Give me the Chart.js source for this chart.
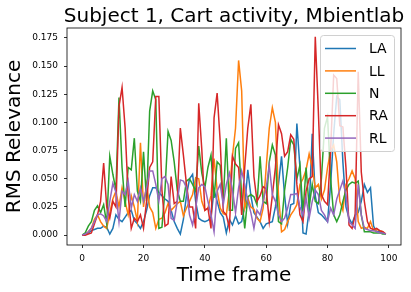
<!DOCTYPE html>
<html>
<head>
<meta charset="utf-8">
<script src="https://cdn.jsdelivr.net/npm/chart.js@4/dist/chart.umd.min.js"></script>
<style>
  html, body { margin: 0; padding: 0; background: #fff; }
  #wrap { width: 411px; height: 292px; }
</style>
</head>
<body>
<div id="wrap"><canvas id="chart" width="411" height="292"></canvas></div>
<script>
/* ================= DATA ================= */
const frames = Array.from({ length: 100 }, (_, i) => i);

const seriesNames = ["LA", "LL", "N", "RA", "RL"];
const seriesColors = ["#1f77b4", "#ff7f0e", "#2ca02c", "#d62728", "#9467bd"];

const laValues = [
  0.000, 0.001, 0.002, 0.004, 0.005, 0.006, 0.006, 0.008, 0.007, 0.001,
  0.006, 0.018, 0.014, 0.012, 0.016, 0.020, 0.022, 0.013, 0.010, 0.006,
  0.012, 0.022, 0.035, 0.042, 0.042, 0.038, 0.035, 0.032, 0.030, 0.022,
  0.012, 0.006, 0.001, 0.014, 0.035, 0.050, 0.054, 0.030, 0.015, 0.013,
  0.012, 0.013, 0.016, 0.040, 0.030, 0.020, 0.016, 0.002, 0.014, 0.009,
  0.017, 0.010, 0.012, 0.025, 0.058, 0.035, 0.020, 0.016, 0.012, 0.006,
  0.010, 0.011, 0.012, 0.025, 0.045, 0.070, 0.035, 0.010, 0.027, 0.028,
  0.099, 0.060, 0.002, 0.001, 0.022, 0.090, 0.035, 0.020, 0.018, 0.015,
  0.012, 0.045, 0.090, 0.123, 0.120, 0.065, 0.025, 0.015, 0.010, 0.018,
  0.020, 0.030, 0.045, 0.038, 0.042, 0.008, 0.003, 0.003, 0.002, 0.001
];

const llValues = [
  0.000, 0.001, 0.003, 0.006, 0.014, 0.018, 0.012, 0.008, 0.006, 0.020,
  0.032, 0.039, 0.025, 0.042, 0.030, 0.018, 0.035, 0.025, 0.012, 0.082,
  0.025, 0.045, 0.025, 0.020, 0.006, 0.014, 0.015, 0.020, 0.028, 0.022,
  0.025, 0.028, 0.030, 0.017, 0.024, 0.030, 0.036, 0.051, 0.050, 0.030,
  0.022, 0.024, 0.035, 0.068, 0.040, 0.024, 0.019, 0.018, 0.040, 0.070,
  0.095, 0.155, 0.128, 0.024, 0.033, 0.025, 0.023, 0.015, 0.012, 0.024,
  0.060, 0.095, 0.113, 0.100, 0.036, 0.003, 0.005, 0.012, 0.018, 0.022,
  0.027, 0.045, 0.050, 0.058, 0.072, 0.060, 0.042, 0.045, 0.032, 0.040,
  0.060, 0.075, 0.080, 0.065, 0.030, 0.022, 0.045, 0.050, 0.057, 0.050,
  0.012, 0.006, 0.007, 0.006, 0.012, 0.004, 0.005, 0.004, 0.003, 0.001
];

const nValues = [
  0.000, 0.002, 0.008, 0.012, 0.022, 0.026, 0.020, 0.027, 0.010, 0.070,
  0.054, 0.040, 0.122, 0.060, 0.025, 0.060, 0.058, 0.086, 0.039, 0.030,
  0.074, 0.030, 0.110, 0.128, 0.120, 0.006, 0.007, 0.040, 0.092, 0.084,
  0.065, 0.040, 0.030, 0.030, 0.048, 0.050, 0.045, 0.039, 0.079, 0.055,
  0.042, 0.060, 0.071, 0.033, 0.065, 0.062, 0.030, 0.086, 0.022, 0.022,
  0.077, 0.082, 0.035, 0.006, 0.034, 0.036, 0.034, 0.027, 0.070, 0.030,
  0.028, 0.065, 0.080, 0.071, 0.012, 0.010, 0.040, 0.060, 0.085, 0.080,
  0.050, 0.062, 0.020, 0.060, 0.025, 0.045, 0.030, 0.028, 0.050, 0.095,
  0.105, 0.050, 0.018, 0.012, 0.018, 0.030, 0.040, 0.045, 0.047, 0.046,
  0.048, 0.018, 0.003, 0.003, 0.003, 0.002, 0.002, 0.002, 0.001, 0.001
];

const raValues = [
  0.000, 0.000, 0.001, 0.002, 0.010, 0.018, 0.030, 0.064, 0.025, 0.015,
  0.030, 0.025, 0.114, 0.131, 0.095, 0.035, 0.006, 0.015, 0.012, 0.018,
  0.006, 0.030, 0.060, 0.065, 0.123, 0.123, 0.040, 0.008, 0.010, 0.052,
  0.028, 0.030, 0.095, 0.071, 0.045, 0.025, 0.025, 0.006, 0.117, 0.076,
  0.022, 0.024, 0.006, 0.104, 0.126, 0.083, 0.021, 0.018, 0.006, 0.070,
  0.063, 0.060, 0.018, 0.060, 0.095, 0.116, 0.052, 0.030, 0.035, 0.043,
  0.041, 0.012, 0.035, 0.060, 0.098, 0.090, 0.070, 0.074, 0.089, 0.085,
  0.045, 0.018, 0.012, 0.039, 0.050, 0.052, 0.176, 0.110, 0.036, 0.030,
  0.027, 0.075, 0.142, 0.139, 0.097, 0.096, 0.060, 0.009, 0.006, 0.018,
  0.145, 0.056, 0.030, 0.012, 0.006, 0.005, 0.006, 0.004, 0.003, 0.001
];

const rlValues = [
  0.000, 0.001, 0.003, 0.006, 0.012, 0.018, 0.019, 0.017, 0.012, 0.030,
  0.046, 0.038, 0.012, 0.039, 0.036, 0.048, 0.024, 0.036, 0.030, 0.042,
  0.030, 0.042, 0.057, 0.057, 0.045, 0.030, 0.050, 0.052, 0.045, 0.015,
  0.013, 0.030, 0.049, 0.048, 0.042, 0.018, 0.009, 0.024, 0.042, 0.045,
  0.043, 0.030, 0.018, 0.003, 0.039, 0.045, 0.027, 0.045, 0.055, 0.040,
  0.020, 0.042, 0.057, 0.045, 0.030, 0.020, 0.006, 0.022, 0.018, 0.030,
  0.042, 0.062, 0.036, 0.030, 0.018, 0.012, 0.015, 0.024, 0.036, 0.036,
  0.037, 0.025, 0.018, 0.033, 0.015, 0.030, 0.040, 0.036, 0.022, 0.018,
  0.012, 0.024, 0.018, 0.032, 0.040, 0.048, 0.036, 0.012, 0.009, 0.006,
  0.045, 0.018, 0.006, 0.005, 0.004, 0.004, 0.003, 0.002, 0.002, 0.001
];

const xTicks = [0, 20, 40, 60, 80, 100];
const yTicks = [0, 0.025, 0.05, 0.075, 0.1, 0.125, 0.15, 0.175];

const titleText = "Subject 1, Cart activity, Mbientlab";
const xTitle = "Time frame";
const yTitle = "RMS Relevance";

/* ================= CHART ================= */
const allSeries = [laValues, llValues, nValues, raValues, rlValues];
const FONT = "'DejaVu Sans', sans-serif";

Chart.defaults.color = "#000";
Chart.defaults.font.family = FONT;

// title centred over the axes, like matplotlib does it
const titlePlugin = {
    id: "axesTitle",
    afterDraw(chart) {
        const { ctx, chartArea } = chart;
        ctx.save();
        ctx.font = "20px " + FONT;
        ctx.fillStyle = "#000";
        ctx.textAlign = "center";
        ctx.textBaseline = "alphabetic";
        ctx.fillText(titleText, (chartArea.left + chartArea.right) / 2, chartArea.top - 6.5);
        ctx.restore();
    }
};

// four spines round the plot
const framePlugin = {
    id: "frame",
    afterDatasetsDraw(chart) {
        const { ctx, chartArea: a } = chart;
        ctx.save();
        ctx.strokeStyle = "#000";
        ctx.lineWidth = 0.8;
        ctx.strokeRect(a.left, a.top, a.right - a.left, a.bottom - a.top);
        ctx.restore();
    }
};

// legend box in the upper right corner of the axes
const legendPlugin = {
    id: "innerLegend",
    afterDraw(chart) {
        const { ctx, chartArea: a } = chart;
        const w = 74, h = 116;
        const x = a.right - 7 - w, y = a.top + 7;
        ctx.save();
        ctx.fillStyle = "rgba(255,255,255,0.8)";
        ctx.strokeStyle = "#d0d0d0";
        ctx.lineWidth = 1;
        ctx.beginPath();
        ctx.roundRect(x + 0.5, y + 0.5, w, h, 3);
        ctx.fill();
        ctx.stroke();

        ctx.font = "14px " + FONT;
        ctx.textBaseline = "middle";
        ctx.textAlign = "left";
        chart.data.datasets.forEach((ds, i) => {
            const rowY = y + 13.5 + i * 22.4;
            ctx.strokeStyle = ds.borderColor;
            ctx.lineWidth = 1.5;
            ctx.beginPath();
            ctx.moveTo(x + 5, rowY);
            ctx.lineTo(x + 36, rowY);
            ctx.stroke();
            ctx.fillStyle = "#000";
            ctx.fillText(ds.label, x + 49, rowY + 1);
        });
        ctx.restore();
    }
};

new Chart(document.getElementById("chart"), {
    type: "line",
    data: {
        labels: frames,
        datasets: seriesNames.map((name, i) => ({
            label: name,
            data: allSeries[i].map((v, k) => ({ x: frames[k], y: v })),
            borderColor: seriesColors[i],
            backgroundColor: seriesColors[i],
            borderWidth: 1.5,
            pointRadius: 0,
            tension: 0,
            fill: false,
            order: seriesNames.length - i
        }))
    },
    options: {
        responsive: false,
        animation: false,
        layout: { padding: { left: 0, right: 10, top: 28, bottom: 0 } },
        plugins: {
            legend: { display: false },
            title: { display: false },
            tooltip: { enabled: false }
        },
        scales: {
            x: {
                type: "linear",
                min: -4.95,
                max: 103.95,
                afterBuildTicks: s => { s.ticks = xTicks.map(v => ({ value: v })); },
                afterFit: s => { s.height = 47; },
                ticks: {
                    font: { size: 9 },
                    padding: 5,
                    maxRotation: 0,
                    callback: v => String(v)
                },
                grid: {
                    display: true,
                    drawOnChartArea: false,
                    drawTicks: true,
                    tickLength: 3,
                    color: "#000",
                    lineWidth: 0.8
                },
                border: { display: false },
                title: {
                    display: true,
                    text: xTitle,
                    font: { size: 20 },
                    padding: { top: 4, bottom: 4 }
                }
            },
            y: {
                type: "linear",
                min: -0.00875,
                max: 0.18375,
                afterBuildTicks: s => { s.ticks = yTicks.map(v => ({ value: v })); },
                afterFit: s => { s.width = 67; },
                ticks: {
                    font: { size: 9 },
                    padding: 6,
                    callback: v => v.toFixed(3)
                },
                grid: {
                    display: true,
                    drawOnChartArea: false,
                    drawTicks: true,
                    tickLength: 3,
                    color: "#000",
                    lineWidth: 0.8
                },
                border: { display: false },
                title: {
                    display: true,
                    text: yTitle,
                    font: { size: 20 },
                    padding: { top: 3, bottom: 3 }
                }
            }
        }
    },
    plugins: [framePlugin, legendPlugin, titlePlugin]
});
</script>
</body>
</html>
